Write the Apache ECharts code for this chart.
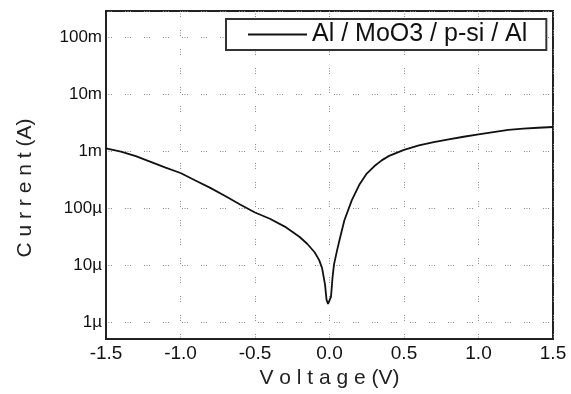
<!DOCTYPE html>
<html>
<head>
<meta charset="utf-8">
<script src="https://cdn.jsdelivr.net/npm/echarts@6/dist/echarts.min.js"></script>
<style>
html,body{margin:0;padding:0;background:#fff;}
#chart{width:571px;height:394px;}
</style>
</head>
<body>
<div id="chart"></div>
<script>
var voltage = [-1.5,-1.4,-1.3,-1.2,-1.1,-1.0,-0.9,-0.8,-0.7,-0.6,-0.5,-0.4,-0.3,-0.25,-0.2,-0.15,-0.1,-0.07,-0.05,-0.03,-0.02,-0.01,0,0.01,0.02,0.03,0.05,0.07,0.1,0.15,0.2,0.25,0.3,0.35,0.4,0.5,0.6,0.7,0.8,0.9,1.0,1.1,1.2,1.3,1.4,1.5];
var current = [1.14e-3,1.0e-3,8.3e-4,6.6e-4,5.2e-4,4.2e-4,3.1e-4,2.3e-4,1.66e-4,1.17e-4,8.5e-5,6.6e-5,4.8e-5,3.9e-5,3.15e-5,2.4e-5,1.7e-5,1.25e-5,9e-6,4.6e-6,2.5e-6,2.1e-6,2.0e-6,2.8e-6,6e-6,1.03e-5,1.8e-5,3.0e-5,6.2e-5,1.4e-4,2.6e-4,4.1e-4,5.5e-4,7.0e-4,8.4e-4,1.07e-3,1.28e-3,1.46e-3,1.64e-3,1.82e-3,2.0e-3,2.2e-3,2.4e-3,2.52e-3,2.62e-3,2.7e-3];
var seriesName = 'Al / MoO3 / p-si / Al';
var yTickValues = [1e-6,1e-5,1e-4,1e-3,1e-2,1e-1];
var yTickLabels = ['1\u00b5','10\u00b5','100\u00b5','1m','10m','100m'];
var xTitle = 'V o l t a g e (V)';
var yTitle = 'C u r r e n t (A)';

var font = "'Liberation Sans', Arial, sans-serif";
var gridDots = [1,1.5,1,1.5,1,13];
var chart = echarts.init(document.getElementById('chart'));
var data = voltage.map(function(v,i){return [v, current[i]];});
chart.setOption({
  animation:false,
  backgroundColor:'#fff',
  grid:{left:106,right:18,top:11,bottom:52,show:true,borderColor:'#222',borderWidth:2,backgroundColor:'transparent'},
  legend:{
    data:[seriesName],
    left:226, top:19,
    padding:[3,19,3,22],
    itemWidth:59, itemHeight:2, itemGap:5,
    icon:'rect',
    backgroundColor:'#fff',
    borderColor:'#333', borderWidth:2, borderRadius:0,
    textStyle:{fontFamily:font,fontSize:25,color:'#111',lineHeight:25}
  },
  xAxis:{
    type:'value', min:-1.5, max:1.5, interval:0.5,
    axisLine:{show:true,onZero:false,lineStyle:{color:'#222',width:2}},
    axisTick:{show:false},
    axisLabel:{fontFamily:font,fontSize:19,color:'#111',margin:5,formatter:function(v){return v.toFixed(1);}},
    splitLine:{show:true,lineStyle:{color:'#888',width:1,type:gridDots}},
    name:xTitle, nameLocation:'middle', nameGap:25,
    nameTextStyle:{fontFamily:font,fontSize:21,color:'#222'}
  },
  yAxis:{
    type:'log', logBase:10, min:5.06e-7, max:0.295,
    axisLine:{show:true,onZero:false,lineStyle:{color:'#222',width:2}},
    axisTick:{show:false},
    axisLabel:{fontFamily:font,fontSize:17,color:'#111',margin:4,
      formatter:function(v){
        for(var i=0;i<yTickValues.length;i++){
          if(Math.abs(Math.log10(v)-Math.log10(yTickValues[i]))<1e-6) return yTickLabels[i];
        }
        return '';
      }},
    splitLine:{show:true,lineStyle:{color:'#888',width:1,type:gridDots}},
    name:yTitle, nameLocation:'middle', nameGap:70,
    nameTextStyle:{fontFamily:font,fontSize:21,color:'#222',padding:[0,26,0,0]}
  },
  series:[{
    name:seriesName, type:'line', data:data,
    symbol:'none', smooth:false,
    lineStyle:{color:'#111',width:1.8},
    itemStyle:{color:'#111'}
  }]
});
</script>
</body>
</html>
